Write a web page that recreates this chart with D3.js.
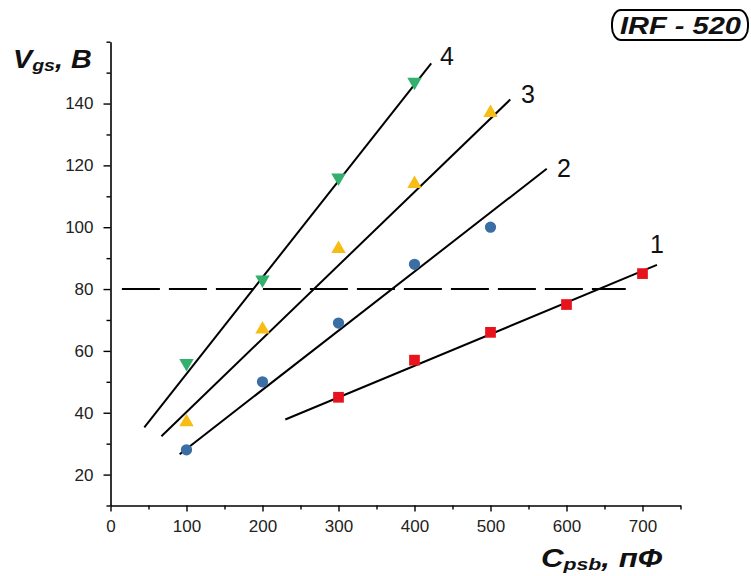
<!DOCTYPE html>
<html>
<head>
<meta charset="utf-8">
<script src="https://cdn.jsdelivr.net/npm/d3@7"></script>
<style>
  html, body { margin: 0; padding: 0; background: #fff; }
  svg { display: block; }
  text { font-family: "Liberation Sans", Arial, sans-serif; }
</style>
</head>
<body>
<svg id="chart" width="751" height="576"></svg>
<script>
// ---- data ----
const xTicksMajor = [0, 100, 200, 300, 400, 500, 600, 700];
const xTicksMinor = [50, 150, 250, 350, 450, 550, 650, 750];
const yTicksMajor = [20, 40, 60, 80, 100, 120, 140];
const yTicksMinor = [10, 30, 50, 70, 90, 110, 130, 150, 160];

const x1 = [300, 400, 500, 600, 700];
const v1 = [45, 57, 66, 75, 85];
const x2 = [100, 200, 300, 400, 500];
const v2 = [28, 50, 69, 88, 100];
const x3 = [100, 200, 300, 400, 500];
const v3 = [37, 67, 93, 114, 137];
const x4 = [100, 200, 300, 400];
const v4 = [56, 83, 116, 147];

// fit line endpoints [x, y]
const fit1 = [[230, 37.8], [719, 87.8]];
const fit2 = [[91, 26.6], [574, 118.9]];
const fit3 = [[67, 32.4], [526, 141.3]];
const fit4 = [[44.5, 35.3], [422, 153]];
const dashedLevel = [[15, 80], [678, 80]];

const lineLabels = ["1", "2", "3", "4"];
const lineLabelPos = [[710, 91.6], [587.5, 116.2], [540, 140.2], [433.5, 152.5]];

const colors = ["#e8141d", "#3a6ea5", "#f7bd14", "#33b06e"];

// ---- chart ----
const svg = d3.select("#chart");
const x = d3.scaleLinear().domain([0, 750]).range([110.5, 680.5]);
const y = d3.scaleLinear().domain([10, 160]).range([505.5, 41.7]);

const axisColor = "#000";

// X axis
const gx = svg.append("g").attr("transform", `translate(0,${y(10)})`);
gx.call(d3.axisBottom(x).tickValues(xTicksMajor).tickSize(6).tickSizeOuter(0).tickPadding(8).tickFormat(d3.format("d")));
gx.append("g").call(d3.axisBottom(x).tickValues(xTicksMinor).tickSize(4).tickSizeOuter(0).tickFormat(""))
  .select(".domain").remove();
gx.selectAll("path.domain").attr("stroke", axisColor).attr("stroke-width", 1.6);
gx.selectAll(".tick line").attr("stroke", axisColor).attr("stroke-width", 1.4);
gx.selectAll(".tick text").attr("font-size", 17).attr("fill", "#222")
  .attr("font-family", "Liberation Sans, Arial, sans-serif");

// Y axis
const gy = svg.append("g").attr("transform", `translate(${x(0)},0)`);
gy.call(d3.axisLeft(y).tickValues(yTicksMajor).tickSize(7).tickSizeOuter(0).tickPadding(10).tickFormat(d3.format("d")));
gy.append("g").call(d3.axisLeft(y).tickValues(yTicksMinor).tickSize(4).tickSizeOuter(0).tickFormat(""))
  .select(".domain").remove();
gy.selectAll("path.domain").attr("stroke", axisColor).attr("stroke-width", 1.6);
gy.selectAll(".tick line").attr("stroke", axisColor).attr("stroke-width", 1.4);
gy.selectAll(".tick text").attr("font-size", 17).attr("fill", "#222")
  .attr("font-family", "Liberation Sans, Arial, sans-serif");

const line = d3.line().x(d => x(d[0])).y(d => y(d[1]));

// dashed level
svg.append("path").datum(dashedLevel).attr("d", line)
  .attr("fill", "none").attr("stroke", "#000").attr("stroke-width", 2)
  .attr("stroke-dasharray", "38,9");

// fit lines
[fit1, fit2, fit3, fit4].forEach(f => {
  svg.append("path").datum(f).attr("d", line)
    .attr("fill", "none").attr("stroke", "#000").attr("stroke-width", 2);
});

// markers
const series = [
  { xs: x1, vs: v1, sym: d3.symbolSquare, size: 115, rot: 0 },
  { xs: x2, vs: v2, sym: d3.symbolCircle, size: 100, rot: 0 },
  { xs: x3, vs: v3, sym: d3.symbolTriangle, size: 90, rot: 0 },
  { xs: x4, vs: v4, sym: d3.symbolTriangle, size: 90, rot: 180 }
];
series.forEach((s, i) => {
  svg.append("g").selectAll("path")
    .data(s.xs.map((xv, j) => [xv, s.vs[j]]))
    .join("path")
    .attr("d", d3.symbol().type(s.sym).size(s.size))
    .attr("transform", d => `translate(${x(d[0])},${y(d[1])}) rotate(${s.rot})`)
    .attr("fill", colors[i]);
});

// line labels
svg.append("g").selectAll("text")
  .data(lineLabels.map((t, i) => ({ t, p: lineLabelPos[i] })))
  .join("text")
  .attr("x", d => x(d.p[0])).attr("y", d => y(d.p[1]))
  .attr("font-size", 25).attr("fill", "#111")
  .text(d => d.t);

// Y title
const yt = svg.append("text")
  .attr("transform", "translate(13,68) scale(1.15,1)")
  .attr("font-size", 25).attr("font-weight", "bold").attr("font-style", "italic").attr("fill", "#111");
yt.append("tspan").text("V");
yt.append("tspan").attr("font-size", 17).attr("dy", 3).text("gs");
yt.append("tspan").attr("dy", -3).text(", B");

// X title
const xt = svg.append("text")
  .attr("transform", "translate(541,567) scale(1.25,1)")
  .attr("font-size", 25).attr("font-weight", "bold").attr("font-style", "italic").attr("fill", "#111");
xt.append("tspan").text("C");
xt.append("tspan").attr("font-size", 17).attr("dy", 3).text("psb");
xt.append("tspan").attr("dy", -3).text(", пФ");

// IRF box
svg.append("rect")
  .attr("x", 612).attr("y", 10).attr("width", 136).attr("height", 30)
  .attr("rx", 9).attr("ry", 13)
  .attr("fill", "none").attr("stroke", "#000").attr("stroke-width", 2);
svg.append("text")
  .attr("x", 620).attr("y", 34)
  .attr("textLength", 121).attr("lengthAdjust", "spacingAndGlyphs")
  .attr("font-size", 23).attr("font-weight", "bold").attr("font-style", "italic").attr("fill", "#111")
  .text("IRF - 520");
</script>
</body>
</html>
